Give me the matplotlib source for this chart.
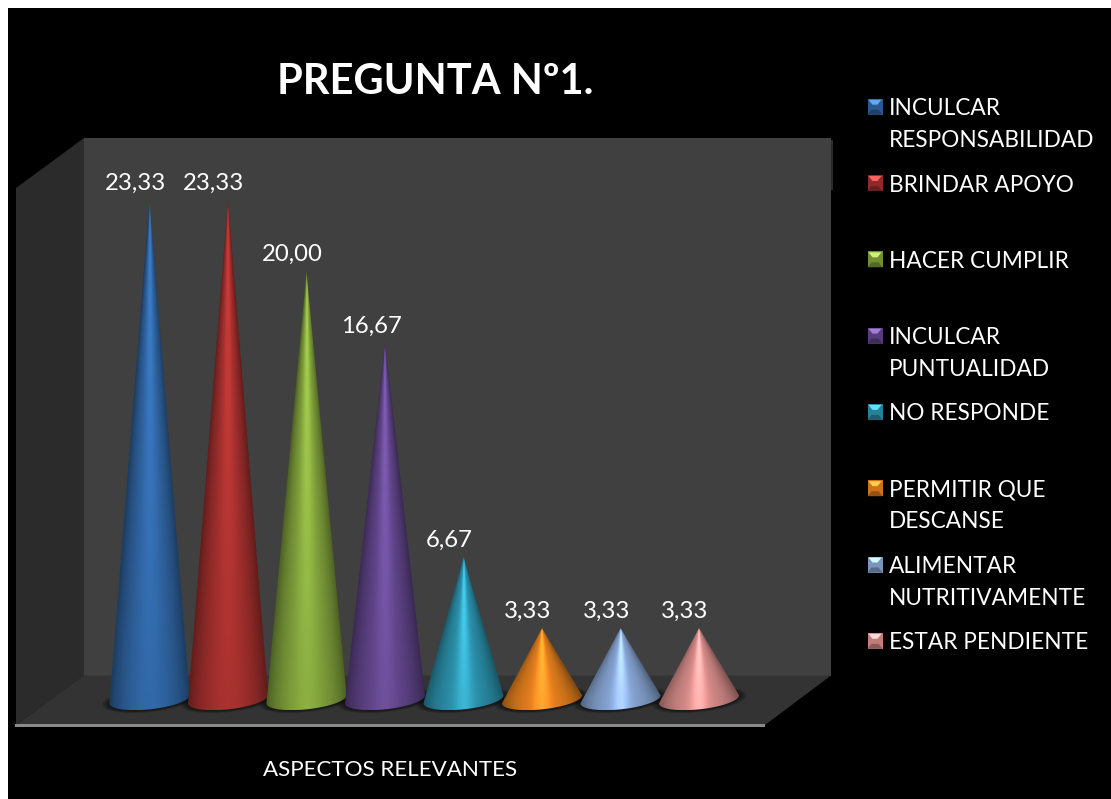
import numpy as np
import matplotlib
matplotlib.use("Agg")
import matplotlib.pyplot as plt
from matplotlib.patches import Polygon, Rectangle
from matplotlib.colors import to_rgb

categories = ["INCULCAR\nRESPONSABILIDAD", "BRINDAR APOYO", "HACER CUMPLIR",
              "INCULCAR\nPUNTUALIDAD", "NO RESPONDE", "PERMITIR QUE\nDESCANSE",
              "ALIMENTAR\nNUTRITIVAMENTE", "ESTAR PENDIENTE"]
values = [23.33, 23.33, 20.00, 16.67, 6.67, 3.33, 3.33, 3.33]
value_labels = ["23,33", "23,33", "20,00", "16,67", "6,67", "3,33", "3,33", "3,33"]
colors = ["#2f639f", "#a02f2d", "#7f9f3b", "#5f4488", "#2b90aa", "#e37f1e", "#86a4d2", "#d58b89"]
title = "PREGUNTA Nº1."
xlabel = "ASPECTOS RELEVANTES"

W, H = 1111, 799
FONT = "Lato"
fig = plt.figure(figsize=(W / 100, H / 100), dpi=100, facecolor="white")

# pixel-space backdrop
bg = fig.add_axes([0, 0, 1, 1])
bg.set_xlim(0, W); bg.set_ylim(H, 0); bg.axis("off")
bg.add_patch(Rectangle((8, 8), W - 8, H - 8, fc="black", ec="none"))
bg.add_patch(Rectangle((84, 138), 747, 538, fc="#404040", ec="none"))
bg.add_patch(Rectangle((830.5, 140), 2, 50, fc="#2a2a2a", ec="none"))
bg.add_patch(Polygon([(16, 188), (84, 138), (84, 676), (16, 725)], fc="#2b2b2b", ec="none"))
bg.add_patch(Polygon([(16, 725), (84, 675.5), (831, 675.5), (765, 725)], fc="#333333", ec="none"))
bg.add_patch(Rectangle((15, 724), 750, 3, fc="#8a8a8a", ec="none"))

# data axes: 78.5 px per category, 21.4 px per value unit, zero at y = 699.3
PX_CAT, PX_VAL, Y0, X0 = 78.5, 21.4, 699.3, 149.5
XMIN, XMAX, YMIN, YMAX = -0.8, 7.8, -1.0, 25.0
ax = fig.add_axes([(X0 + XMIN * PX_CAT) / W, 1 - (Y0 - YMIN * PX_VAL) / H,
                   (XMAX - XMIN) * PX_CAT / W, (YMAX - YMIN) * PX_VAL / H])
ax.axis("off"); ax.patch.set_alpha(0)

R, RY, TILT = 0.51, 0.47, 0.19


def ellipse_xy(cx, cy, f=1.0, g=1.0, n=120):
    th = np.linspace(0, 2 * np.pi, n)
    return np.column_stack([cx + f * R * np.cos(th),
                            cy - g * RY * np.sin(th) + f * TILT * np.cos(th)])


def cone_image(v, base):
    nx, ny = 220, max(200, int(v * 60))
    x = np.linspace(-R * 1.02, R * 1.02, nx)
    y = np.linspace(v, -RY * 1.1, ny)
    xx, yy = np.meshgrid(x, y)
    t = np.clip((v - yy) / v, 0.004, 1.0)
    u = np.clip(xx / (R * t), -1, 1)
    smallness = 1 - v / 23.33
    width = 0.34 - 0.16 * smallness
    glow = np.exp(-(u / width) ** 2)
    amp = 0.06 + 0.24 * (1 - t) + 0.20 * smallness
    profile = 0.60 + 0.40 * (1 - np.abs(u) ** 2.4)
    profile = profile + amp * glow
    rgb = np.array(base)[None, None] * profile[..., None]
    rgb = rgb + (glow * 0.05 * smallness)[..., None]
    return np.clip(rgb, 0, 1)


# soft floor shadows
for i in range(len(values)):
    for k in range(8):
        f = 1.20 - k * 0.025
        ax.add_patch(Polygon(ellipse_xy(i, -0.03, f, 1.02 + (7 - k) * 0.03), fc="black",
                             ec="none", alpha=0.07, zorder=1))

# cones
for i, (v, c) in enumerate(zip(values, colors)):
    im = ax.imshow(cone_image(v, to_rgb(c)), extent=(i - R * 1.02, i + R * 1.02, -RY * 1.1, v),
                   aspect="auto", interpolation="bilinear", zorder=3, origin="upper")
    th = np.linspace(0, np.pi, 100)
    outline = [(i, v)] + [(i + R * np.cos(a), -RY * np.sin(a) + TILT * np.cos(a)) for a in th]
    clip = Polygon(outline, closed=True, transform=ax.transData)
    im.set_clip_path(clip)
    ax.annotate(value_labels[i], (i, v), xytext=(-10.1, 7.3), textcoords="offset points",
                ha="center", va="baseline", color="white", fontsize=17.2, family=FONT, zorder=5)

ax.set_xlim(XMIN, XMAX); ax.set_ylim(YMIN, YMAX)

# title and axis label
fig.text(435.5 / W, 1 - 82.5 / H, title, ha="center", va="center", color="white",
         fontsize=30, fontweight="bold", family=FONT)
fig.text(390.5 / W, 1 - 770 / H, xlabel, ha="center", va="center", color="white",
         fontsize=16.1, family=FONT)

# legend
LEG_Y0, LEG_STEP = 106.7, 76.3
for i, (lab, c) in enumerate(zip(categories, colors)):
    yc = LEG_Y0 + i * LEG_STEP
    base = np.array(to_rgb(c))
    x0, x1 = 867.5, 882.5
    y0, y1 = yc - 8, yc + 8
    bg.add_patch(Rectangle((x0, y0), 15, 16, fc=base * 0.9, ec="none"))
    bg.add_patch(Polygon([(x0, y1), (x0 + 4, y1 - 5), (x1 - 4, y1 - 5), (x1, y1)],
                         fc=base * 0.65, ec="none"))
    bg.add_patch(Polygon([(x0 + 1, y0 + 1), (x0 + 5, y0 + 6), (x1 - 5, y0 + 6), (x1 - 1, y0 + 1)],
                         fc=np.clip(base * 1.3 + 0.15, 0, 1), ec="none"))
    fig.text(889 / W, 1 - (yc - 8.5) / H, lab, ha="left", va="top", color="white",
             fontsize=16.3, family=FONT, linespacing=1.63)

fig.savefig("out.png", dpi=100, facecolor=fig.get_facecolor())
